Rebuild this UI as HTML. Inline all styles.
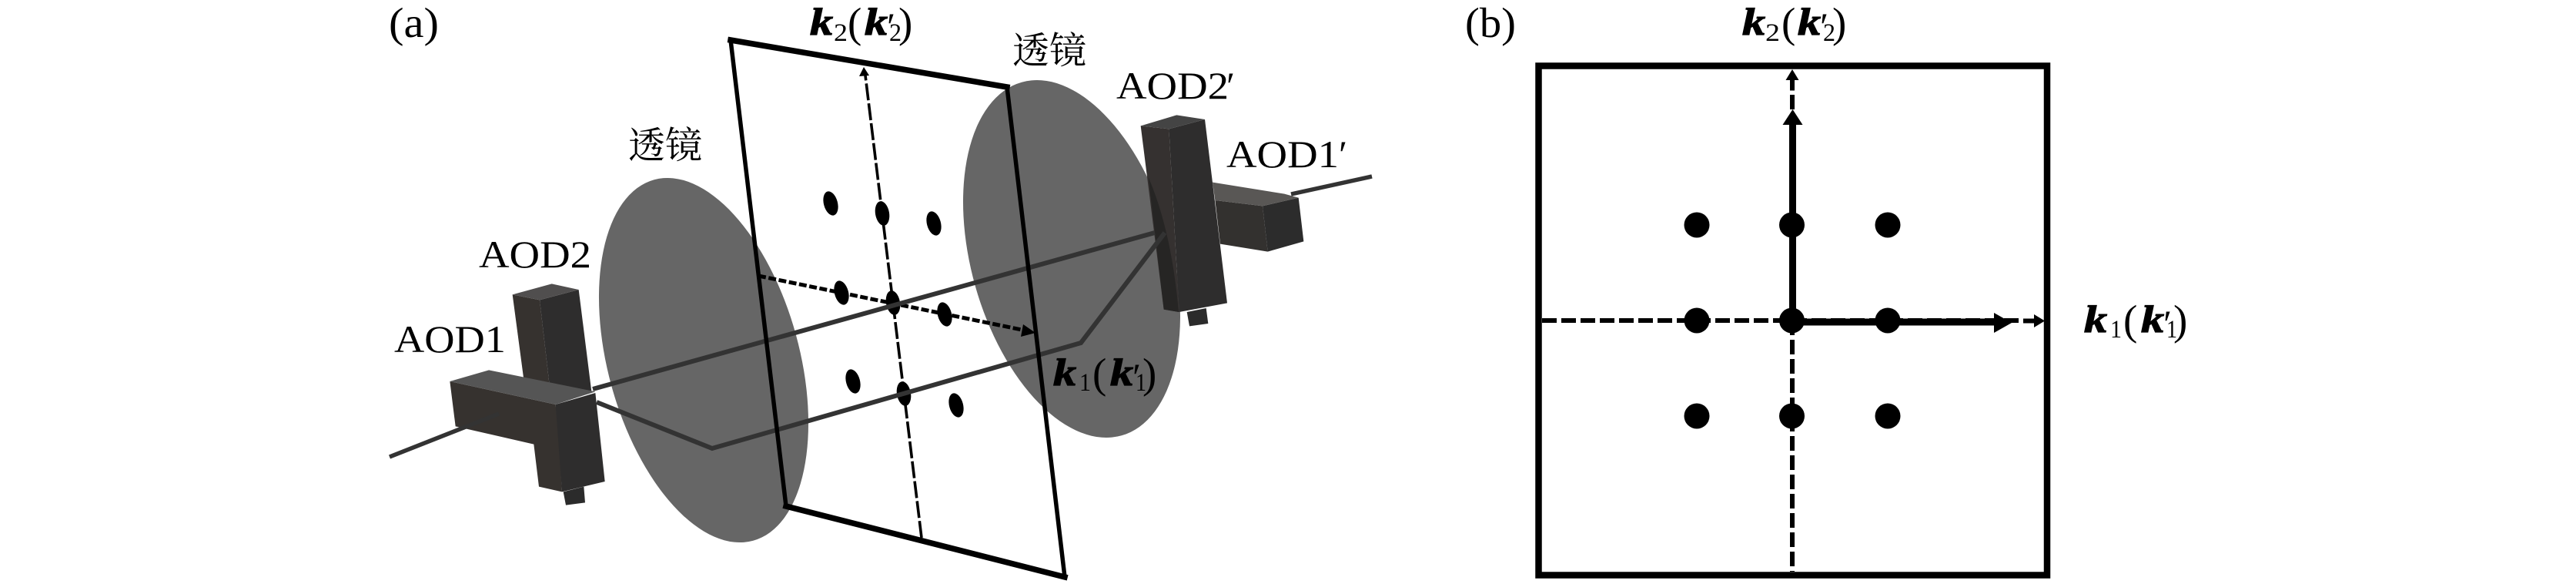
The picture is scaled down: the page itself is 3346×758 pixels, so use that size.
<!DOCTYPE html>
<html lang="zh">
<head>
<meta charset="utf-8">
<title>Diagram</title>
<style>
html,body{margin:0;padding:0;background:#fff;width:3346px;height:758px;overflow:hidden}
svg{display:block}
text{font-family:"Liberation Serif","Noto Serif CJK SC",serif;fill:#000}
.k{font-weight:bold;font-style:italic;font-size:50px;stroke:#000;stroke-width:1.2px}
.s{font-size:33px}
.p{font-size:55px}
.l{font-size:50px}
.c{font-size:48px;font-family:"Liberation Serif","Noto Serif CJK SC",serif}
.m{font-size:50px;font-style:italic}
</style>
</head>
<body>
<svg width="3346" height="758" viewBox="0 0 3346 758" xmlns="http://www.w3.org/2000/svg">
<rect width="3346" height="758" fill="#fff"/>

<!-- Panel (a): lenses -->
<ellipse cx="914" cy="467.5" rx="124.3" ry="242.9" transform="rotate(-15.35 914 467.5)" fill="#666"/>
<ellipse cx="1392" cy="336" rx="130.1" ry="238.3" transform="rotate(-15.8 1392 336)" fill="#666"/>

<!-- dashed axes in plane -->
<line x1="1197" y1="698" x2="1124" y2="98" stroke="#000" stroke-width="3.6" stroke-dasharray="22 4"/>
<polygon points="1122,87 1116,99 1129,98" fill="#000"/>
<line x1="985" y1="358" x2="1332" y2="429" stroke="#000" stroke-width="5" stroke-dasharray="10 3.5"/>
<polygon points="1345,432 1329,421 1326,437" fill="#000"/>

<!-- dots -->
<g fill="#000">
<ellipse cx="1079" cy="264" rx="9" ry="16" transform="rotate(-15 1079 264)"/>
<ellipse cx="1146" cy="277" rx="9" ry="16" transform="rotate(-10 1146 277)"/>
<ellipse cx="1213" cy="290" rx="9" ry="16" transform="rotate(-15 1213 290)"/>
<ellipse cx="1093" cy="380" rx="9" ry="16" transform="rotate(-15 1093 380)"/>
<ellipse cx="1160" cy="393" rx="9" ry="16" transform="rotate(-10 1160 393)"/>
<ellipse cx="1227" cy="408" rx="9" ry="16" transform="rotate(-15 1227 408)"/>
<ellipse cx="1108" cy="495" rx="9" ry="16" transform="rotate(-15 1108 495)"/>
<ellipse cx="1174" cy="511" rx="9" ry="16" transform="rotate(-10 1174 511)"/>
<ellipse cx="1242" cy="526" rx="9" ry="16" transform="rotate(-15 1242 526)"/>
</g>

<!-- AOD2 / AOD1 left boxes -->
<g transform="translate(500 300) scale(.33333)">
<polygon points="497,247 603,268 640,590 540,570" fill="#36322f"/>
<polygon points="603,268 755,228 805,625 640,590" fill="#2e2d2d"/>
<polygon points="497,247 650,205 755,228 603,268" fill="#504e4e"/>
<polygon points="253,585 665,675 680,840 580,830 275,760" fill="#36322f"/>
<polygon points="580,830 600,995 690,1015 670,675 640,760" fill="#36322f"/>
<polygon points="695,1015 705,1067 780,1057 775,995" fill="#2b2b2b"/>
<polygon points="665,675 820,630 857,975 690,1015" fill="#2e2d2d"/>
<polygon points="253,585 405,541 820,625 665,675" fill="#555"/>
</g>

<!-- AOD1' / AOD2' right boxes -->
<g transform="translate(1450 60) scale(.33333)">
<polygon points="385,600 570,622 590,800 405,770" fill="#33312f"/>
<polygon points="570,622 710,590 730,760 590,800" fill="#2c2c2c"/>
<polygon points="375,530 655,575 710,590 570,622 385,600" fill="#595755"/>
<polygon points="95,310 205,322 245,1035 185,1025" fill="#353130"/>
<path d="M125,510 Q215,720 243,1035 L185,1025 Z" fill="#262524"/>
<polygon points="205,322 345,285 432,1000 245,1035" fill="#2e2d2d"/>
<polygon points="275,1035 285,1090 358,1080 350,1020" fill="#2b2b2b"/>
<polygon points="95,310 235,268 345,285 205,322" fill="#444"/>
</g>

<!-- beams -->
<g fill="none" stroke="#333" stroke-linejoin="miter">
<line x1="506" y1="593" x2="648" y2="537" stroke-width="5.5"/>
<line x1="770" y1="505" x2="1500" y2="302" stroke-width="6"/>
<polyline points="775,522 925,582 1404,445 1513,302" stroke-width="6"/>
<line x1="1677" y1="252" x2="1782" y2="229" stroke-width="5.5"/>
</g>

<!-- plane outline -->
<g stroke="#000" fill="none" stroke-linecap="square">
<line x1="949" y1="52" x2="1021" y2="657" stroke-width="5.5"/>
<line x1="1308" y1="113" x2="1383" y2="749" stroke-width="5.5"/>
<line x1="949" y1="52" x2="1308" y2="113" stroke-width="7.5"/>
<line x1="1021" y1="657" x2="1383" y2="749" stroke-width="7.5"/>
</g>

<!-- Panel (a) labels -->
<text class="p" x="505" y="48" textLength="65" lengthAdjust="spacingAndGlyphs">(a)</text>
<text class="l" x="622" y="347" textLength="146" lengthAdjust="spacingAndGlyphs">AOD2</text>
<text class="l" x="512" y="457" textLength="145" lengthAdjust="spacingAndGlyphs">AOD1</text>
<text class="l" x="1450" y="128" textLength="146" lengthAdjust="spacingAndGlyphs">AOD2</text>
<text class="m" x="1590" y="128">′</text>
<text class="l" x="1593" y="217" textLength="146" lengthAdjust="spacingAndGlyphs">AOD1</text>
<text class="m" x="1736" y="217">′</text>
<text class="c" x="816" y="205">透镜</text>
<text class="c" x="1315" y="82">透镜</text>

<!-- k2(k2') panel a -->
<g transform="translate(1052 45)">
<text class="k" x="0" y="0" textLength="30" lengthAdjust="spacingAndGlyphs">k</text>
<text class="s" x="31" y="8" textLength="18" lengthAdjust="spacingAndGlyphs">2</text>
<text class="p" x="49" y="3">(</text>
<text class="k" x="71" y="0" textLength="30" lengthAdjust="spacingAndGlyphs">k</text>
<text class="m" x="97" y="6">′</text>
<text class="s" x="103" y="8" textLength="16" lengthAdjust="spacingAndGlyphs">2</text>
<text class="p" x="115" y="3">)</text>
</g>

<!-- k1(k1') panel a -->
<g transform="translate(1368 500)">
<text class="k" x="0" y="0" textLength="30" lengthAdjust="spacingAndGlyphs">k</text>
<text class="s" x="34" y="7" textLength="15" lengthAdjust="spacingAndGlyphs">1</text>
<text class="p" x="51" y="3">(</text>
<text class="k" x="74" y="0" textLength="30" lengthAdjust="spacingAndGlyphs">k</text>
<text class="m" x="100" y="6">′</text>
<text class="s" x="107" y="7" textLength="14" lengthAdjust="spacingAndGlyphs">1</text>
<text class="p" x="116" y="3">)</text>
</g>

<!-- Panel (b) -->
<rect x="1998.5" y="85.5" width="660.5" height="661" fill="none" stroke="#000" stroke-width="8.5"/>

<line x1="2003" y1="416" x2="2622" y2="416" stroke="#000" stroke-width="6" stroke-dasharray="19 6"/>
<line x1="2628" y1="416.5" x2="2645" y2="416.5" stroke="#000" stroke-width="6"/>
<polygon points="2656,416.5 2642,408 2642,425" fill="#000"/>
<line x1="2328" y1="416" x2="2328" y2="742" stroke="#000" stroke-width="6" stroke-dasharray="19 6"/>

<line x1="2328.5" y1="162" x2="2328.5" y2="416" stroke="#000" stroke-width="9"/>
<polygon points="2328.5,142 2315.5,162 2341.5,162" fill="#000"/>
<line x1="2328" y1="123" x2="2328" y2="142" stroke="#000" stroke-width="6"/>
<line x1="2328" y1="102" x2="2328" y2="117.5" stroke="#000" stroke-width="6"/>
<polygon points="2328,90 2319.5,104 2336.5,104" fill="#000"/>

<line x1="2328" y1="418" x2="2592" y2="418" stroke="#000" stroke-width="9"/>
<polygon points="2613,419 2590,406 2590,432" fill="#000"/>

<g fill="#000">
<circle cx="2204" cy="292" r="16.5"/><circle cx="2327.5" cy="292" r="16.5"/><circle cx="2452" cy="292" r="16.5"/>
<circle cx="2204" cy="416" r="16.5"/><circle cx="2327.5" cy="416" r="16.5"/><circle cx="2452" cy="416" r="16.5"/>
<circle cx="2204" cy="540" r="16.5"/><circle cx="2327.5" cy="540" r="16.5"/><circle cx="2452" cy="540" r="16.5"/>
</g>

<text class="p" x="1903" y="48" textLength="66" lengthAdjust="spacingAndGlyphs">(b)</text>

<!-- k2(k2') panel b -->
<g transform="translate(2263 45)">
<text class="k" x="0" y="0" textLength="30" lengthAdjust="spacingAndGlyphs">k</text>
<text class="s" x="30" y="8" textLength="19" lengthAdjust="spacingAndGlyphs">2</text>
<text class="p" x="51" y="3">(</text>
<text class="k" x="72" y="0" textLength="30" lengthAdjust="spacingAndGlyphs">k</text>
<text class="m" x="98" y="6">′</text>
<text class="s" x="105" y="8" textLength="16" lengthAdjust="spacingAndGlyphs">2</text>
<text class="p" x="117" y="3">)</text>
</g>

<!-- k1(k1') panel b -->
<g transform="translate(2707 431)">
<text class="k" x="0" y="0" textLength="30" lengthAdjust="spacingAndGlyphs">k</text>
<text class="s" x="34" y="7" textLength="15" lengthAdjust="spacingAndGlyphs">1</text>
<text class="p" x="51" y="3">(</text>
<text class="k" x="74" y="0" textLength="30" lengthAdjust="spacingAndGlyphs">k</text>
<text class="m" x="100" y="6">′</text>
<text class="s" x="107" y="7" textLength="14" lengthAdjust="spacingAndGlyphs">1</text>
<text class="p" x="116" y="3">)</text>
</g>
</svg>
</body>
</html>
